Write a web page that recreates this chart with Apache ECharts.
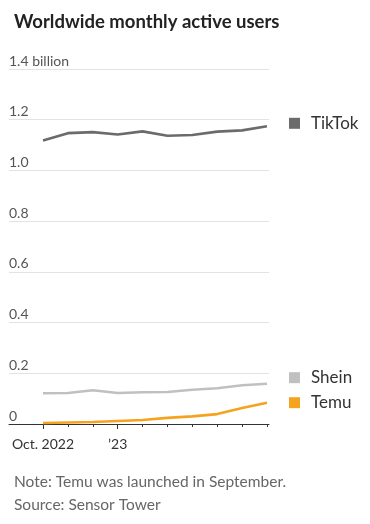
<!DOCTYPE html>
<html><head><meta charset="utf-8">
<script src="https://cdn.jsdelivr.net/npm/echarts@6/dist/echarts.min.js"></script>
<style>html,body{margin:0;padding:0;background:#fff}#c{width:370px;height:524px}</style>
</head><body><div id="c"></div>
<script>
const categories = ['Oct. 2022','Nov.','Dec.','Jan. 2023','Feb.','Mar.','Apr.','May','Jun.','Jul.'];
const tickLabels = {0:'Oct. 2022', 3:'\u201923'};
const tiktok = [1.118,1.147,1.151,1.142,1.154,1.137,1.140,1.153,1.158,1.174];
const shein  = [0.121,0.122,0.133,0.122,0.125,0.126,0.135,0.141,0.153,0.159];
const temu   = [0.004,0.006,0.008,0.012,0.016,0.024,0.030,0.039,0.063,0.084];
const yTicks = [0,0.2,0.4,0.6,0.8,1.0,1.2,1.4];

const font = 'Lato, "Noto Sans", sans-serif';
const chart = echarts.init(document.getElementById('c'));
const idx = categories.map((_, i) => i);
function mk(name, data, color) {
  return {
    name, type: 'line', data: data.map((v, i) => [i, v]), symbol: 'none',
    lineStyle: {color, width: 2.6}, itemStyle: {color},
    xAxisIndex: 0,
    endLabel: {
      show: true, distance: 22,
      formatter: '{sq|}{t|' + name + '}',
      rich: {
        sq: {width: 11, height: 11, backgroundColor: color},
        t: {fontSize: 17, color: '#333', fontFamily: font, padding: [0,0,0,11]}
      }
    }
  };
}
const s1 = mk('TikTok', tiktok, '#6b6b6b'); s1.endLabel.offset = [0, -3];
const s2 = mk('Shein', shein, '#c0c0c0'); s2.endLabel.offset = [0, -6];
const s3 = mk('Temu', temu, '#f5a31e'); s3.endLabel.offset = [0, 0];

chart.setOption({
  animation: false,
  title: [
    {text: 'Worldwide monthly active users', left: 9, top: 8,
     textStyle: {fontSize: 18.5, fontWeight: 'bold', color: '#222', fontFamily: font}},
    {text: 'Note: Temu was launched in September.\nSource: Sensor Tower', left: 9, top: 465,
     textStyle: {fontSize: 15.5, fontWeight: 'normal', color: '#666', fontFamily: font, lineHeight: 23}}
  ],
  grid: {left: 9, right: 101, top: 69, bottom: 100},
  xAxis: [{
    type: 'value', min: -1.366, max: 9.08,
    axisLine: {show: true, lineStyle: {color: '#333', width: 1}},
    axisTick: {show: true, customValues: idx, length: 3, lineStyle: {color: '#333'}},
    axisLabel: {show: true, customValues: [0, 3], formatter: v => tickLabels[v] || '',
      fontSize: 14, color: '#333', fontFamily: font, margin: 13},
    splitLine: {show: false}
  }, {
    type: 'value', min: -1.366, max: 9.08, position: 'bottom',
    axisLine: {show: false},
    axisTick: {show: true, customValues: [0, 3], length: 5, lineStyle: {color: '#333'}},
    axisLabel: {show: false}, splitLine: {show: false}
  }],
  yAxis: {
    type: 'value', min: 0, max: 1.4, interval: 0.2,
    axisLine: {show: false}, axisTick: {show: false},
    axisLabel: {inside: true, margin: 0, verticalAlign: 'bottom', padding: [0,0,1,0],
      fontSize: 14, color: '#555', fontFamily: font,
      formatter: v => v === 0 ? '0' : (Math.abs(v - 1.4) < 1e-6 ? '1.4 billion' : v.toFixed(1))},
    splitLine: {lineStyle: {color: '#e3e3e3', width: 1}}
  },
  series: [s1, s2, s3]
});
</script></body></html>
